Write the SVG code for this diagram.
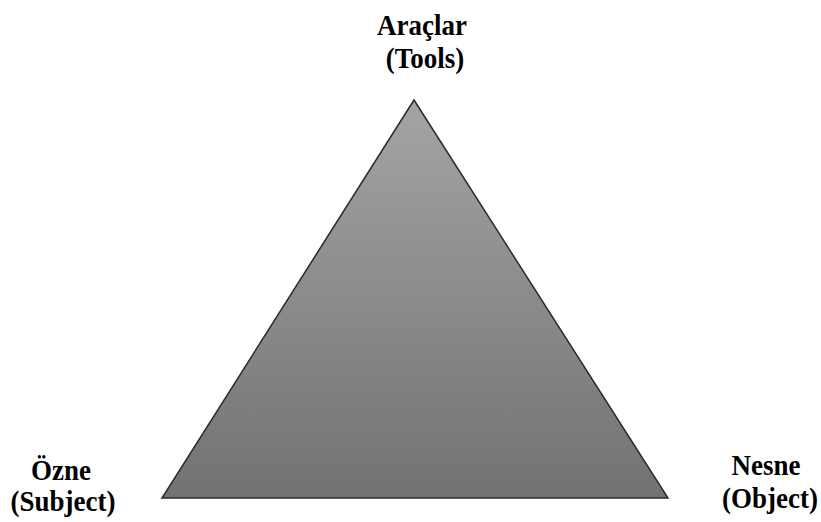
<svg xmlns="http://www.w3.org/2000/svg" width="821" height="522" viewBox="0 0 821 522">
<style>
.lbl{font-family:"Liberation Serif","Times New Roman",serif;font-weight:bold;font-size:27px;fill:#000;text-anchor:middle}
</style>
<defs>
<linearGradient id="g" x1="0" y1="0" x2="0" y2="1">
<stop offset="0" stop-color="#a4a4a4"/>
<stop offset="1" stop-color="#727272"/>
</linearGradient>
</defs>
<rect width="821" height="522" fill="#fff"/>
<g id="triangle">
<polygon points="414,100 162,498 668,498" fill="url(#g)" stroke="#2a2a2a" stroke-width="1.5" stroke-linejoin="miter"/>
</g>
<g id="tools">
<text class="lbl" x="422" y="35" transform="translate(422 35) scale(1 1.1) translate(-422 -35)">Araçlar</text>
<text class="lbl" x="425" y="68" transform="translate(425 68) scale(1 1.1) translate(-425 -68)">(Tools)</text>
</g>
<g id="subject">
<text class="lbl" x="61" y="480" transform="translate(61 480) scale(1 1.1) translate(-61 -480)">Özne</text>
<text class="lbl" x="63" y="511" transform="translate(63 511) scale(1 1.1) translate(-63 -511)">(Subject)</text>
</g>
<g id="object">
<text class="lbl" x="766" y="475" transform="translate(766 475) scale(1 1.1) translate(-766 -475)">Nesne</text>
<text class="lbl" x="770" y="508" transform="translate(770 508) scale(1 1.1) translate(-770 -508)">(Object)</text>
</g>
</svg>
